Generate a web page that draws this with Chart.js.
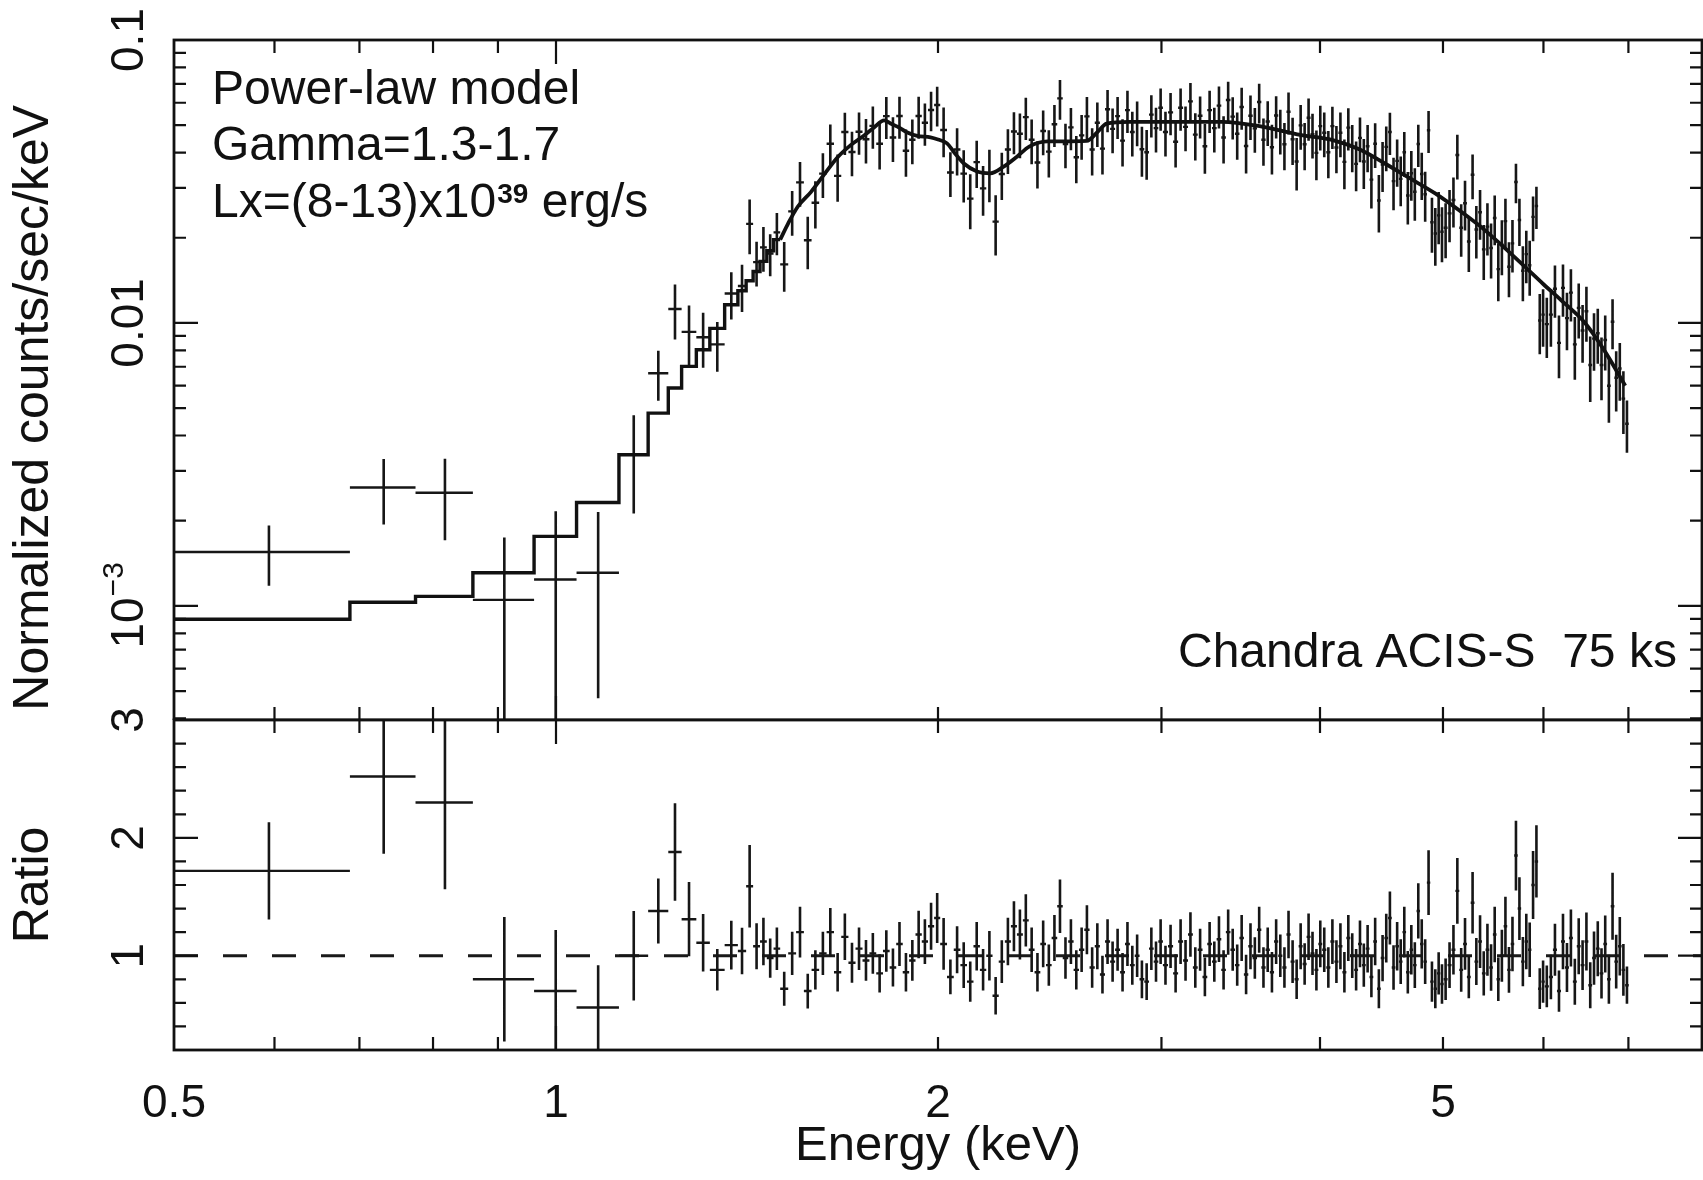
<!DOCTYPE html>
<html><head><meta charset="utf-8">
<script src="https://cdn.jsdelivr.net/npm/chart.js@4.4.1/dist/chart.umd.min.js"></script>
<style>
html,body{margin:0;padding:0;background:#fff;overflow:hidden;}
#wrap{position:relative;width:1703px;height:1180px;background:#fff;}
#top{position:absolute;left:0;top:0;width:1703px;height:720px;}
#bot{position:absolute;left:0;top:680px;width:1703px;height:500px;}
canvas{display:block;}
</style></head><body>
<div id="wrap">
<div id="top"><canvas id="cTop" width="1703" height="720"></canvas></div>
<div id="bot"><canvas id="cBot" width="1703" height="500"></canvas></div>
</div>
<script>
// ---------------- data ----------------
const binEdges = [
 0.5, 0.688, 0.775, 0.86, 0.961, 1.038, 1.121, 1.182,
 1.226, 1.256, 1.290, 1.322, 1.358, 1.391, 1.412, 1.430, 1.448, 1.466, 1.484, 1.502,
 1.524, 1.546, 1.568, 1.590, 1.612, 1.634, 1.656, 1.678, 1.700, 1.722, 1.744, 1.766, 1.788, 1.810, 1.832, 1.854, 1.876, 1.898, 1.920, 1.942, 1.964, 1.986, 2.008,
 2.033, 2.058, 2.083, 2.108, 2.133, 2.158, 2.183, 2.208, 2.233, 2.258, 2.283, 2.308, 2.333, 2.358, 2.383, 2.408, 2.433, 2.458, 2.483, 2.508,
 2.533, 2.558, 2.583, 2.608, 2.633, 2.658, 2.683, 2.708, 2.733, 2.758, 2.783, 2.808, 2.833, 2.858, 2.883, 2.908, 2.933, 2.958, 2.983, 3.008,
 3.036, 3.064, 3.092, 3.120, 3.148, 3.176, 3.204, 3.232, 3.260, 3.288, 3.316, 3.344, 3.372, 3.400, 3.428, 3.456, 3.484, 3.512,
 3.540, 3.568, 3.596, 3.624, 3.652, 3.680, 3.708, 3.736, 3.764, 3.792, 3.820, 3.848, 3.876, 3.904, 3.932, 3.960, 3.988, 4.016,
 4.046, 4.076, 4.106, 4.136, 4.166, 4.196, 4.226, 4.256, 4.286, 4.316, 4.346, 4.376, 4.406, 4.436, 4.466, 4.496, 4.526,
 4.556, 4.586, 4.616, 4.646, 4.676, 4.706, 4.736, 4.766, 4.796, 4.826, 4.856, 4.886, 4.916, 4.946, 4.976, 5.006,
 5.042, 5.078, 5.114, 5.150, 5.186, 5.222, 5.258, 5.294, 5.330, 5.366, 5.402, 5.438, 5.474, 5.510,
 5.546, 5.582, 5.618, 5.654, 5.690, 5.726, 5.762, 5.798, 5.834, 5.870, 5.906, 5.942, 5.978, 6.014,
 6.059, 6.104, 6.149, 6.194, 6.239, 6.284, 6.329, 6.374, 6.419, 6.464, 6.509,
 6.554, 6.599, 6.644, 6.689, 6.734, 6.779, 6.824, 6.869, 6.914, 6.959, 7.004
];

// Normalized counts/sec/keV per bin
const counts = [
 0.00155, 0.00262, 0.00251, 0.00105, 0.00124, 0.00131, 0.00342,
 0.00664, 0.0112, 0.0093, 0.0089, 0.0084, 0.0127, 0.0135, 0.0224, 0.0164, 0.0185, 0.0176, 0.0209,
 0.0161, 0.0248, 0.0314, 0.0196, 0.0266, 0.0337, 0.0430, 0.0331, 0.0473, 0.0402, 0.0474, 0.0446, 0.0497, 0.0430, 0.0538, 0.0452, 0.0539, 0.0406, 0.0444, 0.0539, 0.0510, 0.0566, 0.0589,
 0.0481, 0.0340, 0.0410, 0.0337, 0.0275, 0.0370, 0.0299, 0.0338, 0.0228, 0.0336, 0.0410, 0.0475, 0.0466, 0.0534, 0.0444, 0.0369, 0.0477, 0.0403, 0.0504, 0.0622,
 0.0429, 0.0491, 0.0385, 0.0460, 0.0537, 0.0410, 0.0510, 0.0413, 0.0569, 0.0485, 0.0538, 0.0441, 0.0565, 0.0473, 0.0514, 0.0411, 0.0401, 0.0545, 0.0488, 0.0576,
 0.0473, 0.0555, 0.0437, 0.0576, 0.0493, 0.0607, 0.0463, 0.0540, 0.0421, 0.0565, 0.0488, 0.0586, 0.0452, 0.0614, 0.0536, 0.0466, 0.0580, 0.0422,
 0.0540, 0.0487, 0.0604, 0.0444, 0.0515, 0.0418, 0.0541, 0.0480, 0.0428, 0.0558, 0.0446, 0.0372, 0.0499, 0.0428, 0.0531, 0.0465, 0.0399, 0.0496,
 0.0470, 0.0401, 0.0496, 0.0417, 0.0470, 0.0371, 0.0490, 0.0421, 0.0365, 0.0451, 0.0372, 0.0421, 0.0321, 0.0430, 0.0271, 0.0363, 0.0419,
 0.0473, 0.0317, 0.0374, 0.0323, 0.0401, 0.0282, 0.0338, 0.0291, 0.0429, 0.0336, 0.0285, 0.0480, 0.0227, 0.0207, 0.0240, 0.0210,
 0.0217, 0.0244, 0.0272, 0.0392, 0.0217, 0.0265, 0.0194, 0.0334, 0.0214, 0.0246, 0.0182, 0.0219, 0.0184, 0.0235,
 0.0155, 0.0189, 0.0229, 0.0158, 0.0191, 0.0315, 0.0231, 0.0153, 0.0175, 0.0160, 0.0237, 0.0259, 0.0102, 0.0107,
 0.0099, 0.0107, 0.0132, 0.0085, 0.0133, 0.0104, 0.0128, 0.0084, 0.0113, 0.0094, 0.0110,
 0.0071, 0.0088, 0.0092, 0.0071, 0.0087, 0.0060, 0.0101, 0.0064, 0.0069, 0.0054, 0.0044
];

// data / model ratio per bin
const ratio = [
 1.72, 2.52, 2.30, 0.80, 0.70, 0.56, 1.00,
 1.38, 1.88, 1.31, 1.11, 0.88, 1.09, 1.04, 1.59, 1.08, 1.12, 0.98, 1.06,
 0.72, 1.02, 1.20, 0.70, 0.88, 1.02, 1.20, 0.86, 1.16, 0.94, 1.06, 0.96, 1.02, 0.85, 1.04, 0.90, 1.10, 0.86, 0.96, 1.18, 1.12, 1.25, 1.32,
 1.10, 0.82, 1.05, 0.92, 0.78, 1.08, 0.88, 1.00, 0.66, 0.95, 1.12, 1.25, 1.18, 1.30, 1.05, 0.86, 1.10, 0.92, 1.15, 1.42,
 0.98, 1.12, 0.88, 1.05, 1.22, 0.90, 1.08, 0.84, 1.12, 0.95, 1.05, 0.86, 1.10, 0.92, 1.00, 0.80, 0.78, 1.06, 0.95, 1.12,
 0.92, 1.08, 0.85, 1.12, 0.96, 1.18, 0.90, 1.05, 0.82, 1.10, 0.95, 1.14, 0.88, 1.20, 1.05, 0.92, 1.15, 0.84,
 1.08, 0.98, 1.22, 0.90, 1.05, 0.86, 1.12, 1.00, 0.90, 1.18, 0.95, 0.80, 1.08, 0.93, 1.16, 1.02, 0.88, 1.10,
 1.05, 0.90, 1.12, 0.95, 1.08, 0.86, 1.15, 1.00, 0.88, 1.10, 0.92, 1.06, 0.82, 1.12, 0.72, 0.98, 1.15,
 1.32, 0.90, 1.08, 0.95, 1.20, 0.86, 1.05, 0.92, 1.38, 1.10, 0.95, 1.62, 0.78, 0.72, 0.85, 0.76,
 0.80, 0.92, 1.05, 1.55, 0.88, 1.10, 0.82, 1.45, 0.95, 1.12, 0.85, 1.05, 0.90, 1.18,
 0.80, 1.00, 1.25, 0.88, 1.10, 1.85, 1.40, 0.95, 1.12, 1.05, 1.60, 1.80, 0.72, 0.78,
 0.74, 0.82, 1.05, 0.70, 1.12, 0.90, 1.15, 0.78, 1.08, 0.92, 1.12,
 0.75, 0.98, 1.06, 0.85, 1.10, 0.80, 1.42, 0.95, 1.08, 0.88, 0.75
];

// relative 1-sigma error of each bin
const relErr = [
 0.24, 0.26, 0.32, 0.66, 0.74, 0.64, 0.38,
 0.20, 0.22, 0.24, 0.22, 0.20, 0.19, 0.19, 0.22, 0.18, 0.18, 0.17, 0.17,
 0.20, 0.18, 0.18, 0.21, 0.19, 0.18, 0.17, 0.19, 0.17, 0.18, 0.17, 0.18, 0.17, 0.19, 0.17, 0.18, 0.17, 0.19, 0.18, 0.17, 0.17, 0.16, 0.16,
 0.20, 0.18, 0.19, 0.21, 0.22, 0.19, 0.20, 0.21, 0.24, 0.19, 0.18, 0.17, 0.18, 0.17, 0.18, 0.19, 0.18, 0.19, 0.17, 0.16,
 0.18, 0.17, 0.19, 0.18, 0.17, 0.19, 0.18, 0.19, 0.17, 0.18, 0.17, 0.19, 0.17, 0.18, 0.18, 0.20, 0.20, 0.17, 0.18, 0.17,
 0.18, 0.17, 0.19, 0.17, 0.18, 0.16, 0.19, 0.17, 0.20, 0.17, 0.18, 0.17, 0.19, 0.16, 0.17, 0.19, 0.17, 0.20,
 0.18, 0.18, 0.16, 0.19, 0.18, 0.20, 0.17, 0.18, 0.19, 0.17, 0.19, 0.21, 0.18, 0.19, 0.17, 0.18, 0.20, 0.18,
 0.18, 0.19, 0.17, 0.19, 0.18, 0.20, 0.17, 0.19, 0.20, 0.18, 0.20, 0.19, 0.21, 0.18, 0.23, 0.20, 0.18,
 0.17, 0.21, 0.19, 0.20, 0.18, 0.21, 0.20, 0.21, 0.17, 0.19, 0.20, 0.17, 0.22, 0.23, 0.21, 0.22,
 0.22, 0.21, 0.20, 0.18, 0.21, 0.20, 0.22, 0.18, 0.21, 0.20, 0.22, 0.21, 0.22, 0.20,
 0.23, 0.22, 0.20, 0.22, 0.21, 0.16, 0.19, 0.22, 0.21, 0.22, 0.18, 0.17, 0.24, 0.23,
 0.24, 0.23, 0.21, 0.25, 0.21, 0.23, 0.21, 0.25, 0.22, 0.23, 0.22,
 0.26, 0.23, 0.22, 0.25, 0.22, 0.26, 0.20, 0.24, 0.23, 0.25, 0.21
];

// power-law model: histogram steps for the first 19 bins, smooth curve above 1.5 keV
const modelStep = [8.97e-4, 1.03e-3, 1.08e-3, 1.31e-3, 1.76e-3, 2.32e-3, 3.42e-3,
 4.80e-3, 5.89e-3, 7.02e-3, 8.04e-3, 9.57e-3, 0.0116, 0.0130, 0.0141, 0.0152, 0.0165, 0.0180, 0.0197];
const modelCurveE = [1.502, 1.524, 1.551, 1.588, 1.627, 1.667, 1.707, 1.749, 1.780, 1.814, 1.835, 1.858, 1.890, 1.926, 1.973, 2.000,
 2.033, 2.060, 2.096, 2.147, 2.199, 2.253, 2.308, 2.360, 2.440, 2.620, 2.670, 2.716, 2.830, 3.350, 3.600, 3.860,
 4.100, 4.300, 4.500, 4.700, 4.930, 5.200, 5.400, 5.600, 5.800, 6.000, 6.200, 6.470, 6.700, 6.960];
const modelCurveV = [0.0197, 0.0225, 0.0258, 0.0290, 0.0335, 0.0385, 0.0425, 0.0460, 0.0490, 0.0520, 0.0507, 0.0494, 0.0472, 0.0458, 0.0453, 0.0445,
 0.0431, 0.0400, 0.0366, 0.0343, 0.0338, 0.0357, 0.0387, 0.0420, 0.0438, 0.0440, 0.0472, 0.0506, 0.0514, 0.0514, 0.0494, 0.0462,
 0.0442, 0.0410, 0.0366, 0.0326, 0.0287, 0.0242, 0.0212, 0.0183, 0.0158, 0.0137, 0.0120, 0.0100, 0.0080, 0.0060];

const ratioReference = [1, 1];

// axes
const energyRange = [0.5, 8];
const countRange = [3.95e-4, 0.1];
const ratioRange = [0.2, 3];
const xLabelValues = [0.5, 1, 2, 5];
const xMajorTicks = [1];
const xMinorTicks = [0.6, 0.7, 0.8, 0.9, 2, 3, 4, 5, 6, 7];
const countMajorTicks = [0.1, 0.01, 0.001];
const countMinorTicks = [0.09, 0.08, 0.07, 0.06, 0.05, 0.04, 0.03, 0.02,
 0.009, 0.008, 0.007, 0.006, 0.005, 0.004, 0.003, 0.002,
 0.0009, 0.0008, 0.0007, 0.0006, 0.0005, 0.0004];
const countTickValues = [0.1, 0.01, 0.001];
const countTickLabels = [['0.1', ''], ['0.01', ''], ['10', '\u22123']];
const ratioMajorTicks = [1, 2, 3];
const ratioMinorTicks = [0.4, 0.6, 0.8, 1.2, 1.4, 1.6, 1.8, 2.2, 2.4, 2.6, 2.8];
const ratioTickValues = [3, 2, 1];
const ratioTickLabels = [['3', ''], ['2', ''], ['1', '']];

const noteLines = ['Power-law model', 'Gamma=1.3-1.7'];
const lxParts = ['Lx=(8-13)x10', '39', ' erg/s'];
const instrumentNote = 'Chandra ACIS-S  75 ks';

// ---------------- build ----------------
const FAMILY = "'Liberation Sans', Arial, Helvetica, sans-serif";
const INK = '#111';
Chart.defaults.font.family = FAMILY;
Chart.defaults.color = INK;

const lo = binEdges.slice(0, -1);
const hi = binEdges.slice(1);
const centers = lo.map((l, i) => (l + hi[i]) / 2);

function verticalBars(vals) {
  const pts = [];
  vals.forEach((v, i) => {
    pts.push({x: centers[i], y: v * (1 - relErr[i])}, {x: centers[i], y: v * (1 + relErr[i])}, {x: centers[i], y: null});
  });
  return pts;
}
function horizontalBars(vals) {
  const pts = [];
  vals.forEach((v, i) => {
    pts.push({x: lo[i], y: v}, {x: hi[i], y: v}, {x: hi[i], y: null});
  });
  return pts;
}
function barSet(data, w) {
  return {data, borderColor: '#161616', borderWidth: w, pointRadius: 0, spanGaps: false, tension: 0, order: 2};
}

const framePlugin = {
  id: 'frame',
  afterDraw(chart, args, o) {
    const {ctx, chartArea: a} = chart;
    const xs = chart.scales.x, ys = chart.scales.y;
    ctx.save();
    ctx.strokeStyle = INK;
    ctx.lineWidth = 2.2;
    ctx.beginPath();
    const seg = (x1, y1, x2, y2) => { ctx.moveTo(x1, y1); ctx.lineTo(x2, y2); };
    const xt = (v, len) => { const p = xs.getPixelForValue(v); seg(p, a.top, p, a.top + len); seg(p, a.bottom, p, a.bottom - len); };
    const yt = (v, len) => { const p = ys.getPixelForValue(v); seg(a.left, p, a.left + len, p); seg(a.right, p, a.right - len, p); };
    xMinorTicks.forEach(v => xt(v, 13));
    xMajorTicks.forEach(v => xt(v, 24));
    o.yMinor.forEach(v => yt(v, 12));
    o.yMajor.forEach(v => yt(v, 24));
    ctx.stroke();
    ctx.lineWidth = 2.8;
    ctx.strokeRect(a.left, a.top, a.right - a.left, a.bottom - a.top);
    // rotated y tick labels
    ctx.fillStyle = INK;
    ctx.textBaseline = 'middle';
    ctx.textAlign = 'left';
    o.labelValues.forEach((v, i) => {
      const [t, sup] = o.labels[i];
      const y = ys.getPixelForValue(v);
      ctx.save();
      ctx.translate(o.labelX, y);
      ctx.rotate(-Math.PI / 2);
      ctx.font = '46px ' + FAMILY;
      const w1 = ctx.measureText(t).width;
      let w2 = 0;
      if (sup) { ctx.font = '30px ' + FAMILY; w2 = ctx.measureText(sup).width; }
      const x0 = -(w1 + w2) / 2;
      ctx.font = '46px ' + FAMILY;
      ctx.fillText(t, x0, 0);
      if (sup) { ctx.font = '30px ' + FAMILY; ctx.fillText(sup, x0 + w1 + 1, -15); }
      ctx.restore();
    });
    ctx.restore();
  }
};

const notesPlugin = {
  id: 'notes',
  afterDraw(chart, args, o) {
    if (!o.show) return;
    const ctx = chart.ctx;
    ctx.save();
    ctx.fillStyle = INK;
    ctx.textBaseline = 'alphabetic';
    ctx.textAlign = 'left';
    ctx.font = '48px ' + FAMILY;
    ctx.fillText(noteLines[0], 212, 104);
    ctx.fillText(noteLines[1], 212, 160);
    let x = 212;
    ctx.fillText(lxParts[0], x, 217);
    x += ctx.measureText(lxParts[0]).width + 1;
    ctx.font = 'bold 28px ' + FAMILY;
    ctx.fillText(lxParts[1], x, 203);
    x += ctx.measureText(lxParts[1]).width;
    ctx.font = '48px ' + FAMILY;
    ctx.fillText(lxParts[2], x, 217);
    ctx.fillText(instrumentNote, 1178, 667);
    ctx.restore();
  }
};

// upper panel
new Chart(document.getElementById('cTop'), {
  type: 'line',
  data: {datasets: [
    {data: lo.slice(0, modelStep.length).map((x, i) => ({x, y: modelStep[i]})).concat([{x: binEdges[modelStep.length], y: modelStep[modelStep.length - 1]}]),
     stepped: 'before', borderColor: INK, borderWidth: 3.4, pointRadius: 0, order: 0},
    {data: modelCurveE.map((x, i) => ({x, y: modelCurveV[i]})), cubicInterpolationMode: 'monotone',
     borderColor: INK, borderWidth: 3.8, pointRadius: 0, order: 0},
    barSet(verticalBars(counts), 2.6),
    barSet(horizontalBars(counts), 2.4)
  ]},
  options: {
    responsive: false, animation: false, events: [], devicePixelRatio: 1,
    layout: {padding: {top: 40, right: 1, left: 0, bottom: 0}},
    plugins: {legend: {display: false}, tooltip: {enabled: false},
      frame: {yMajor: countMajorTicks, yMinor: countMinorTicks, labelValues: countTickValues, labels: countTickLabels, labelX: 130},
      notes: {show: true}},
    scales: {
      x: {type: 'logarithmic', min: energyRange[0], max: energyRange[1], display: false},
      y: {type: 'logarithmic', min: countRange[0], max: countRange[1],
          grid: {display: false}, border: {display: false}, ticks: {display: false},
          title: {display: true, text: 'Normalized counts/sec/keV    ', color: INK, font: {size: 50}, padding: {top: 4, bottom: 0}},
          afterFit: s => { s.width = 174; }}
    }
  },
  plugins: [framePlugin, notesPlugin]
});

// lower panel
new Chart(document.getElementById('cBot'), {
  type: 'line',
  data: {datasets: [
    {data: energyRange.map((x, i) => ({x, y: ratioReference[i]})), borderColor: '#1a1a1a', borderWidth: 3,
     borderDash: [24, 25], pointRadius: 0, order: 3},
    barSet(verticalBars(ratio), 2.6),
    barSet(horizontalBars(ratio), 2.4)
  ]},
  options: {
    responsive: false, animation: false, events: [], devicePixelRatio: 1,
    layout: {padding: {top: 40, right: 1, left: 0, bottom: 0}},
    plugins: {legend: {display: false}, tooltip: {enabled: false},
      frame: {yMajor: ratioMajorTicks, yMinor: ratioMinorTicks, labelValues: ratioTickValues, labels: ratioTickLabels, labelX: 130},
      notes: {show: false}},
    scales: {
      x: {type: 'logarithmic', min: energyRange[0], max: energyRange[1],
          grid: {display: false}, border: {display: false},
          afterBuildTicks: s => { s.ticks = xLabelValues.map(v => ({value: v})); },
          ticks: {autoSkip: false, maxRotation: 0, minRotation: 0, padding: 19, color: INK, font: {size: 46},
                  callback: v => String(v)},
          title: {display: true, text: 'Energy (keV)', color: INK, font: {size: 49}, padding: {top: 0, bottom: 4}},
          afterFit: s => { s.height = 130; }},
      y: {type: 'linear', min: ratioRange[0], max: ratioRange[1],
          grid: {display: false}, border: {display: false}, ticks: {display: false},
          title: {display: true, text: 'Ratio', color: INK, font: {size: 50}, padding: {top: 4, bottom: 0}},
          afterFit: s => { s.width = 174; }}
    }
  },
  plugins: [framePlugin, notesPlugin]
});
</script>
</body></html>
